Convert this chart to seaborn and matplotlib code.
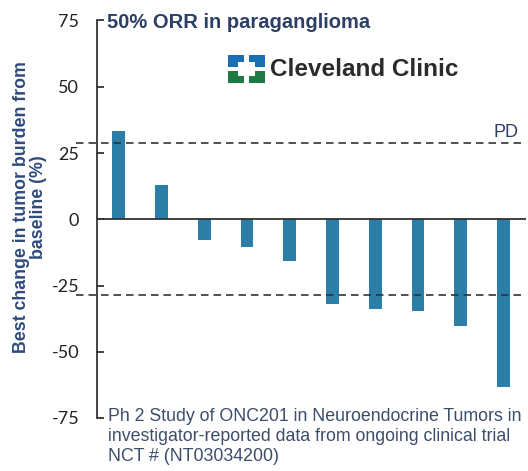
import pandas as pd
import seaborn as sns
import matplotlib.pyplot as plt
from matplotlib.patches import Rectangle

# best change in tumor burden per patient (waterfall, sorted)
patients = ['1', '2', '3', '4', '5', '6', '7', '8', '9', '10']
change = [33.3, 12.9, -7.8, -10.3, -15.6, -32.1, -34.0, -34.7, -40.2, -63.4]
thresholds = [28.6, -28.6]
yticks = [75, 50, 25, 0, -25, -50, -75]
ytick_labels = ['75', '50', '25', '0', '-25', '-50', '-75']

bar_color = '#2a7ea8'
navy = '#2c3f66'
label_blue = '#2f4b7c'
note_color = '#3b4d6b'

df = pd.DataFrame({'patient': patients, 'change': change})

W, H = 528, 471
fig = plt.figure(figsize=(W / 100, H / 100), dpi=100)
ax = fig.add_axes([97.3 / W, 1 - 418 / H, 428.5 / W, 397.5 / H])

sns.barplot(data=df, x='patient', y='change', color=bar_color, saturation=1,
            width=0.3, ax=ax)

ax.axhline(0, color='#333333', lw=1.3, zorder=3)
for t in thresholds:
    ax.axhline(t, color='#333333', lw=1.2, ls=(0, (4.5, 3)), zorder=3,
               xmin=-0.05, clip_on=False)

ax.set_xlim(-0.5, 9.52)
ax.set_ylim(-75, 75)
ax.set_yticks(yticks)
ax.set_yticklabels(ytick_labels, fontfamily='Lato', fontsize=13, color='#111111')
ax.tick_params(axis='y', direction='in', length=5, width=1.2, pad=13, colors='#222222')
ax.tick_params(axis='x', bottom=False, labelbottom=False)
for s in ['top', 'right', 'bottom']:
    ax.spines[s].set_visible(False)
ax.spines['left'].set_color('#222222')
ax.spines['left'].set_linewidth(1.2)
ax.set_xlabel('')
ax.set_ylabel('Best change in tumor burden from\nbaseline (%)', fontfamily='Liberation Sans',
              fontweight='bold', fontsize=12.8, color=label_blue, linespacing=1.02)
ax.yaxis.set_label_coords(-0.117, 0.53)

ax.text(9.36, 29.5, 'PD', ha='right', va='bottom', fontsize=13,
        fontfamily='Liberation Sans', color=navy)

fig.text(107 / W, 1 - 22 / H, '50% ORR in paraganglioma', ha='left', va='center',
         fontsize=14.5, fontweight='bold', fontfamily='Liberation Sans', color=navy)

# logo
def px_rect(x, y, w, h, c):
    fig.add_artist(Rectangle((x / W, 1 - (y + h) / H), w / W, h / H,
                             transform=fig.transFigure, color=c, lw=0))

blue, green = '#1a6fb5', '#1d7a45'
px_rect(228, 55, 16, 12, blue)
px_rect(249, 55, 16, 12, blue)
px_rect(228, 71, 16, 12, green)
px_rect(249, 71, 16, 12, green)
px_rect(238, 62, 6, 5, 'white')
px_rect(249, 62, 6, 5, 'white')
px_rect(238, 71, 6, 5, 'white')
px_rect(249, 71, 6, 5, 'white')
fig.text(270 / W, 1 - 70 / H, 'Cleveland Clinic', ha='left', va='center',
         fontsize=17.5, fontweight='bold', fontfamily='Liberation Sans', color='#2b2b2b')

fig.text(108 / W, 1 - 408 / H,
         'Ph 2 Study of ONC201 in Neuroendocrine Tumors in\n'
         'investigator-reported data from ongoing clinical trial\n'
         'NCT # (NT03034200)',
         ha='left', va='top', fontsize=12.8, fontfamily='Liberation Sans',
         color=note_color, linespacing=1.22)

fig.savefig('out.png', dpi=100)
